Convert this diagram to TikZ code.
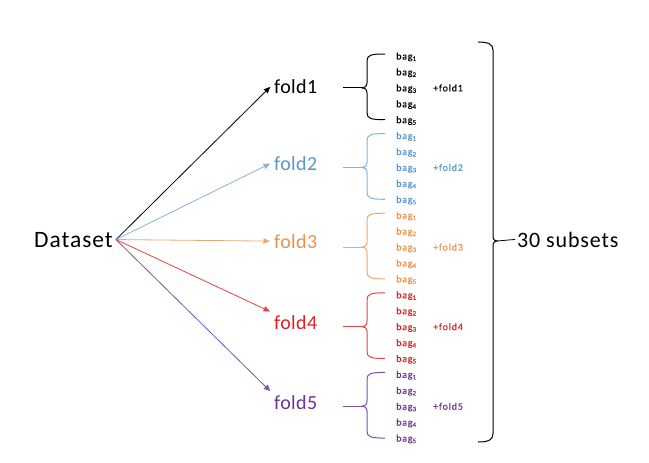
\documentclass[tikz,border=0pt]{standalone}
\usepackage{fontspec}
\setmainfont{Carlito}
\newfontfamily\bigf[LetterSpace=4]{Carlito}
\newfontfamily\foldf[LetterSpace=2]{Carlito}
\newfontfamily\smallf[LetterSpace=8,FakeBold=0.2]{Carlito}
\usetikzlibrary{arrows.meta}
\definecolor{t1}{RGB}{0,0,0}
\definecolor{t2}{RGB}{88,150,205}
\definecolor{t3}{RGB}{236,145,72}
\definecolor{t4}{RGB}{224,32,32}
\definecolor{t5}{RGB}{112,48,160}
\definecolor{a1}{RGB}{0,0,0}
\definecolor{a2}{RGB}{132,180,220}
\definecolor{a3}{RGB}{240,168,115}
\definecolor{a4}{RGB}{230,68,68}
\definecolor{a5}{RGB}{128,82,172}
\tikzset{
  bigtxt/.style={font=\bigf\fontsize{23.5}{26}\selectfont, inner sep=3pt, anchor=base west},
  subtxt/.style={font=\bigf\fontsize{22}{25}\selectfont, inner sep=2pt, anchor=base west},
  foldtxt/.style={font=\foldf\fontsize{20}{23}\selectfont, inner sep=3pt, anchor=base west},
  bagtxt/.style={font=\smallf\fontsize{10}{12}\selectfont, inner sep=0pt, anchor=base west},
  conn/.style={-{Triangle[length=6.5pt,width=5.5pt]}, line width=0.8pt, shorten >=1pt},
  brc/.style={line width=1pt}
}
\begin{document}
\begin{tikzpicture}[x=1pt,y=-1pt]
\useasboundingbox (0,0) rectangle (649,463);
\fill[white] (0,0) rectangle (649,463);
\node[bigtxt, anchor=base east] (ds) at (116,247) {Dataset};
% fold labels
\node[foldtxt, t1] (f1) at (271,93) {fold1};
\node[foldtxt, t2] (f2) at (271,170) {fold2};
\node[foldtxt, t3] (f3) at (271,248) {fold3};
\node[foldtxt, t4] (f4) at (271,329) {fold4};
\node[foldtxt, t5] (f5) at (271,409) {fold5};
% arrows
\draw[conn, a1] (ds.east) -- (f1.west);
\draw[conn, a2] (ds.east) -- (f2.west);
\draw[conn, a3] (ds.east) -- (f3.west);
\draw[conn, a4] (ds.east) -- (f4.north west);
\draw[conn, a5] (ds.east) -- (f5.north west);
% bag groups
\foreach \g in {1,...,5}{
  \pgfmathsetmacro{\gmid}{56+15.92*(5*(\g-1)+2)}
  \pgfmathsetmacro{\gtop}{56+15.92*(5*(\g-1))-2}
  \pgfmathsetmacro{\gbot}{56+15.92*(5*(\g-1)+4)}
  \foreach \k in {1,...,5}{
    \pgfmathsetmacro{\yc}{56+15.92*(5*(\g-1)+\k-1)}
    \node[bagtxt, t\g] (b\g\k) at (396,\yc+3.5) {bag\textsubscript{\k}};
  }
  \node[bagtxt, t\g] (p\g) at (433,\gmid+3.5) {+fold\g};
  \coordinate (st\g) at (343,\gmid);
  \coordinate (tp\g) at (362,\gmid);
  \draw[brc, a\g] (st\g) -- (tp\g);
  \draw[brc, a\g] (385,\gtop) .. controls (371,\gtop) and (367,\gtop+1) .. (367,\gtop+7)
     -- (367,\gmid-5) .. controls (367,\gmid-1) and (364,\gmid) .. (tp\g)
     .. controls (364,\gmid) and (367,\gmid+1) .. (367,\gmid+5)
     -- (367,\gbot-7) .. controls (367,\gbot-1) and (371,\gbot) .. (385,\gbot);
}
% big brace
\coordinate (bigtip) at (497,241);
\draw[brc] (478,42) .. controls (488,42) and (493,44) .. (493,50)
  -- (493,236) .. controls (493,240) and (495,241) .. (bigtip)
  .. controls (495,241) and (493,242) .. (493,246)
  -- (493,434) .. controls (493,440) and (488,442) .. (478,442);
\node[subtxt] (sub) at (515,247) {30 subsets};
\draw[line width=0.8pt] (bigtip) -- (sub.west);
\end{tikzpicture}
\end{document}
